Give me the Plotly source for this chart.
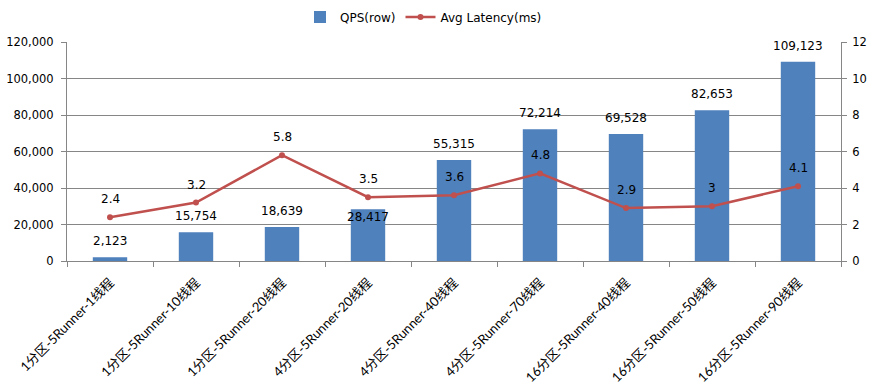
import plotly.graph_objects as go

categories = ["1分区-5Runner-1线程", "1分区-5Runner-10线程", "1分区-5Runner-20线程",
              "4分区-5Runner-20线程", "4分区-5Runner-40线程", "4分区-5Runner-70线程",
              "16分区-5Runner-40线程", "16分区-5Runner-50线程", "16分区-5Runner-90线程"]
qps = [2123, 15754, 18639, 28417, 55315, 72214, 69528, 82653, 109123]
latency = [2.4, 3.2, 5.8, 3.5, 3.6, 4.8, 2.9, 3, 4.1]

num_font = "'DejaVu Sans', sans-serif"
cat_font = "Lato, 'Noto Sans CJK SC', sans-serif"
grid = "#868686"

W, H = 869, 388
ML, MR, MT, MB = 67, 28, 42, 127
plot_h = H - MT - MB
Y1MAX = 120000

# style: which bar label the original chart nudged inside its bar
inside_label_categories = {"4分区-5Runner-20线程"}

fig = go.Figure()
fig.add_trace(go.Bar(
    x=categories, y=qps, name="QPS(row)",
    marker=dict(color="#4F81BD", line=dict(width=0)),
))
fig.add_trace(go.Scatter(
    x=categories, y=latency, name="Avg Latency(ms)", yaxis="y2",
    mode="lines+markers",
    line=dict(color="#C0504D", width=2.5),
    marker=dict(color="#C0504D", size=6),
    cliponaxis=False,
))

annotations = []
for c, v in zip(categories, qps):
    room = plot_h * (1 - v / Y1MAX)  # pixels between bar top and plot top
    if c in inside_label_categories:
        shift = -8
    elif room < 16:
        shift = 9
    else:
        shift = 16
    annotations.append(dict(x=c, y=v, xref="x", yref="y", text=f"{v:,}",
                            showarrow=False, yshift=shift,
                            font=dict(family=num_font, size=12, color="black")))
for c, v in zip(categories, latency):
    annotations.append(dict(x=c, y=v, xref="x", yref="y2", text=f"{v:g}",
                            showarrow=False, yshift=18,
                            font=dict(family=num_font, size=12, color="black")))

fig.update_layout(
    width=W, height=H,
    margin=dict(l=ML, r=MR, t=MT, b=MB, autoexpand=False),
    plot_bgcolor="white", paper_bgcolor="white",
    font=dict(family=num_font, size=12, color="black"),
    bargap=0.6,
    showlegend=True,
    legend=dict(orientation="h", x=(300 - ML) / (W - ML - MR), xanchor="left",
                y=1 - 17 / H, yref="container",
                yanchor="middle", font=dict(size=12), bgcolor="rgba(0,0,0,0)"),
    annotations=annotations,
    xaxis=dict(type="category", tickangle=-45, showline=True, linecolor=grid,
               ticks="outside", tickson="boundaries", ticklen=5, tickcolor=grid,
               showgrid=False, ticklabelstandoff=8,
               tickfont=dict(size=13, family=cat_font)),
    yaxis=dict(range=[0, Y1MAX], dtick=20000, tickformat=",", showgrid=True,
               gridcolor=grid, showline=True, linecolor=grid, ticks="outside",
               ticklen=5, tickcolor=grid, zeroline=False, ticklabelstandoff=5,
               tickfont=dict(size=11.5)),
    yaxis2=dict(range=[0, 12], dtick=2, overlaying="y", side="right", showgrid=False,
                showline=True, linecolor=grid, ticks="outside", ticklen=5,
                tickcolor=grid, zeroline=False, ticklabelstandoff=3,
                tickfont=dict(size=11.5)),
)

fig.write_html("out.html", config={"displayModeBar": False},
               post_script="document.body.style.margin='0';")
